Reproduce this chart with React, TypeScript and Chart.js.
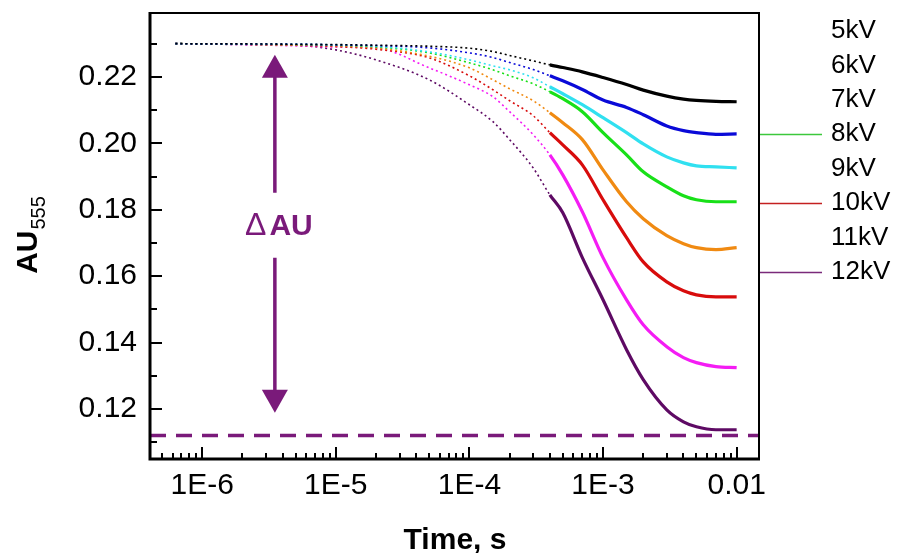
import React, { useEffect, useRef } from 'react';
import { Chart, registerables } from 'chart.js';

Chart.register(...registerables);

// ---------- data ----------
const times = [6.3e-7, 1e-6, 2e-6, 5e-6, 1e-5, 2e-5, 5e-5, 1e-4, 1.5e-4, 2e-4, 3e-4, 4e-4, 5e-4, 7e-4, 1e-3, 1.5e-3, 2e-3, 3e-3, 4e-3, 5e-3, 7e-3, 1e-2];

const seriesLabels = ['5kV', '6kV', '7kV', '8kV', '9kV', '10kV', '11kV', '12kV'];

const au5kV = [0.2300, 0.2299, 0.2299, 0.2298, 0.2297, 0.2295, 0.2292, 0.2286, 0.2276, 0.2264, 0.2248, 0.2236, 0.2228, 0.2215, 0.2198, 0.2177, 0.2160, 0.2142, 0.2133, 0.2129, 0.2126, 0.2125];
const au6kV = [0.2300, 0.2299, 0.2299, 0.2298, 0.2296, 0.2294, 0.2287, 0.2272, 0.2258, 0.2243, 0.2222, 0.2203, 0.2188, 0.2162, 0.2130, 0.2108, 0.2086, 0.2052, 0.2038, 0.2032, 0.2027, 0.2028];
const au7kV = [0.2300, 0.2299, 0.2298, 0.2298, 0.2296, 0.2292, 0.2275, 0.2251, 0.2233, 0.2221, 0.2197, 0.2170, 0.2149, 0.2116, 0.2077, 0.2032, 0.1998, 0.1959, 0.1941, 0.1932, 0.1929, 0.1926];
const au8kV = [0.2300, 0.2299, 0.2298, 0.2297, 0.2295, 0.2290, 0.2272, 0.2242, 0.2221, 0.2203, 0.2179, 0.2155, 0.2134, 0.2095, 0.2032, 0.1965, 0.1914, 0.1869, 0.1842, 0.1830, 0.1824, 0.1824];
const au9kV = [0.2300, 0.2299, 0.2298, 0.2296, 0.2293, 0.2287, 0.2262, 0.2227, 0.2191, 0.2164, 0.2128, 0.2092, 0.2062, 0.2011, 0.1920, 0.1824, 0.1773, 0.1722, 0.1698, 0.1686, 0.1680, 0.1686];
const au10kV = [0.2300, 0.2299, 0.2298, 0.2295, 0.2291, 0.2283, 0.2257, 0.2203, 0.2161, 0.2128, 0.2083, 0.2032, 0.1995, 0.1935, 0.1830, 0.1716, 0.1643, 0.1583, 0.1556, 0.1544, 0.1538, 0.1538];
const au11kV = [0.2300, 0.2299, 0.2297, 0.2293, 0.2290, 0.2287, 0.2227, 0.2176, 0.2140, 0.2095, 0.2026, 0.1965, 0.1905, 0.1794, 0.1656, 0.1529, 0.1454, 0.1388, 0.1355, 0.1340, 0.1328, 0.1325];
const au12kV = [0.2300, 0.2299, 0.2297, 0.2295, 0.2281, 0.2251, 0.2191, 0.2116, 0.2065, 0.2011, 0.1926, 0.1845, 0.1791, 0.1656, 0.1529, 0.1379, 0.1289, 0.1198, 0.1162, 0.1147, 0.1138, 0.1138];

const seriesValues = [au5kV, au6kV, au7kV, au8kV, au9kV, au10kV, au11kV, au12kV];
const seriesColors = ['#000000', '#0a0ad8', '#30e0f0', '#18e018', '#f08a12', '#d80c0c', '#f41cf4', '#5e0a64'];

// legend entries that carry a line sample in the original
const legendLineSeries = ['8kV', '10kV', '12kV'];
const legendLineColors: Record<string, string> = { '8kV': '#3cc83c', '10kV': '#c42020', '12kV': '#7a2a7a' };

// axes
const xMin = 4.07e-7;
const xMax = 0.0147;
const yMin = 0.105;
const yMax = 0.2392;
const xMajorTicks = [1e-6, 1e-5, 1e-4, 1e-3, 1e-2];
const xTickLabels = ['1E-6', '1E-5', '1E-4', '1E-3', '0.01'];
const xMinorMultipliers = [2, 3, 4, 5, 6, 7, 8, 9];
const yMajorTicks = [0.12, 0.14, 0.16, 0.18, 0.2, 0.22];
const yMinorTicks = [0.11, 0.13, 0.15, 0.17, 0.19, 0.21, 0.23];

// annotations
const baselineValue = 0.1121;
const arrowTime = 3.5e-6;
const arrowTop = 0.2266;
const arrowBottom = 0.1189;
const arrowLabelValue = 0.1758;
const arrowLabel = { delta: 'Δ', text: 'AU' };
const xTitle = 'Time, s';
const yTitleMain = 'AU';
const yTitleSub = '555';

// early part of every trace is sparse (dotted)
const sparseUntil = 4e-4;

const FONT = '"Liberation Sans", Arial, Helvetica, sans-serif';
const purple = '#7a1a7a';

const overlayPlugin = {
  id: 'overlay',
  afterDraw(chart: any) {
    const { ctx, chartArea, scales } = chart;
    const xs = scales.x;
    const ys = scales.y;
    const { left, right, top, bottom } = chartArea;
    ctx.save();

    // frame
    ctx.strokeStyle = '#000';
    ctx.lineWidth = 2;
    ctx.beginPath();
    ctx.moveTo(left, top);
    ctx.lineTo(right, top);
    ctx.lineTo(right, bottom);
    ctx.stroke();
    ctx.lineWidth = 3;
    ctx.beginPath();
    ctx.moveTo(left, top - 1);
    ctx.lineTo(left, bottom);
    ctx.lineTo(right + 1, bottom);
    ctx.stroke();

    // ticks (inward)
    ctx.lineWidth = 2;
    ctx.beginPath();
    yMajorTicks.forEach((v) => {
      const y = Math.round(ys.getPixelForValue(v));
      ctx.moveTo(left, y);
      ctx.lineTo(left + 12, y);
    });
    yMinorTicks.forEach((v) => {
      const y = Math.round(ys.getPixelForValue(v));
      ctx.moveTo(left, y);
      ctx.lineTo(left + 7, y);
    });
    const decades = [1e-7, ...xMajorTicks];
    decades.forEach((d) => {
      if (d >= xMin && d <= xMax) {
        const x = Math.round(xs.getPixelForValue(d));
        ctx.moveTo(x, bottom);
        ctx.lineTo(x, bottom - 12);
      }
      xMinorMultipliers.forEach((m) => {
        const v = d * m;
        if (v > xMin && v < xMax) {
          const x = Math.round(xs.getPixelForValue(v));
          ctx.moveTo(x, bottom);
          ctx.lineTo(x, bottom - 6);
        }
      });
    });
    ctx.stroke();

    // arrow with ΔAU
    const ax = xs.getPixelForValue(arrowTime);
    const yTop = ys.getPixelForValue(arrowTop);
    const yBot = ys.getPixelForValue(arrowBottom);
    const yLab = ys.getPixelForValue(arrowLabelValue);
    ctx.strokeStyle = purple;
    ctx.fillStyle = purple;
    ctx.lineWidth = 3.5;
    ctx.beginPath();
    ctx.moveTo(ax, yTop + 20);
    ctx.lineTo(ax, yLab - 31);
    ctx.moveTo(ax, yLab + 34);
    ctx.lineTo(ax, yBot - 20);
    ctx.stroke();
    ctx.beginPath();
    ctx.moveTo(ax, yTop);
    ctx.lineTo(ax - 13, yTop + 23);
    ctx.lineTo(ax + 13, yTop + 23);
    ctx.closePath();
    ctx.fill();
    ctx.beginPath();
    ctx.moveTo(ax, yBot);
    ctx.lineTo(ax - 13, yBot - 23);
    ctx.lineTo(ax + 13, yBot - 23);
    ctx.closePath();
    ctx.fill();

    ctx.textBaseline = 'alphabetic';
    ctx.textAlign = 'left';
    ctx.font = `32px ${FONT}`;
    const wd = ctx.measureText(arrowLabel.delta).width;
    ctx.font = `bold 30px ${FONT}`;
    const wa = ctx.measureText(arrowLabel.text).width;
    const tx = ax + 4 - (wd + wa + 3) / 2;
    ctx.font = `32px ${FONT}`;
    ctx.fillText(arrowLabel.delta, tx, yLab + 11);
    ctx.font = `bold 30px ${FONT}`;
    ctx.fillText(arrowLabel.text, tx + wd + 3, yLab + 11);

    // legend
    ctx.font = `26px ${FONT}`;
    ctx.fillStyle = '#000';
    ctx.textBaseline = 'middle';
    seriesLabels.forEach((lab, i) => {
      const y = 31 + i * 34.4;
      ctx.fillText(lab, 831, y);
      if (legendLineSeries.includes(lab)) {
        ctx.strokeStyle = legendLineColors[lab];
        ctx.lineWidth = 1.5;
        ctx.beginPath();
        ctx.moveTo(right + 1, Math.round(y) + 0.5);
        ctx.lineTo(822, Math.round(y) + 0.5);
        ctx.stroke();
      }
    });

    // axis titles
    ctx.fillStyle = '#000';
    ctx.textBaseline = 'alphabetic';
    ctx.textAlign = 'center';
    ctx.font = `bold 30px ${FONT}`;
    ctx.fillText(xTitle, 455, 549);

    ctx.save();
    ctx.font = `bold 30px ${FONT}`;
    const wMain = ctx.measureText(yTitleMain).width;
    ctx.font = `20px ${FONT}`;
    const wSub = ctx.measureText(yTitleSub).width;
    const total = wMain + 1 + wSub;
    ctx.translate(37, (top + bottom) / 2 - 1);
    ctx.rotate(-Math.PI / 2);
    ctx.textAlign = 'left';
    ctx.font = `bold 30px ${FONT}`;
    ctx.fillText(yTitleMain, -total / 2, 0);
    ctx.font = `20px ${FONT}`;
    ctx.fillText(yTitleSub, -total / 2 + wMain + 1, 8);
    ctx.restore();

    ctx.restore();
  },
};

export default function App() {
  const ref = useRef<HTMLCanvasElement | null>(null);

  useEffect(() => {
    document.body.style.margin = '0';
    document.body.style.overflow = 'hidden';
    const canvas = ref.current;
    if (!canvas) return;

    const datasets: any[] = seriesValues.map((vals, i) => ({
      label: seriesLabels[i],
      data: times.map((t, j) => ({ x: t, y: vals[j] })),
      borderColor: seriesColors[i],
      backgroundColor: seriesColors[i],
      borderWidth: 3.2,
      pointRadius: 0,
      cubicInterpolationMode: 'monotone',
      fill: false,
      segment: {
        borderDash: (c: any) => (c.p1.parsed.x <= sparseUntil ? [2, 3] : undefined),
        borderWidth: (c: any) => (c.p1.parsed.x <= sparseUntil ? 1.6 : 3.2),
      },
    }));

    datasets.push({
      label: 'baseline',
      data: [
        { x: xMin, y: baselineValue },
        { x: xMax, y: baselineValue },
      ],
      borderColor: purple,
      borderWidth: 3.5,
      borderDash: [16, 10],
      pointRadius: 0,
      fill: false,
    });

    const chart = new Chart(canvas, {
      type: 'line',
      data: { datasets },
      options: {
        animation: false,
        responsive: false,
        devicePixelRatio: 1,
        layout: { padding: { top: 13, right: 141, left: 0, bottom: 0 } },
        plugins: {
          legend: { display: false },
          tooltip: { enabled: false },
        },
        scales: {
          x: {
            type: 'logarithmic',
            min: xMin,
            max: xMax,
            grid: { display: false, drawTicks: false },
            border: { display: false },
            afterBuildTicks: (scale: any) => {
              scale.ticks = xMajorTicks.map((v) => ({ value: v, major: true }));
            },
            afterFit: (scale: any) => {
              scale.height = 94;
              scale.paddingLeft = 0;
              scale.paddingRight = 0;
              scale.paddingTop = 0;
              scale.paddingBottom = 0;
            },
            ticks: {
              autoSkip: false,
              maxRotation: 0,
              minRotation: 0,
              padding: 9,
              color: '#000',
              font: { family: FONT, size: 30 },
              callback: (v: any) => {
                const idx = xMajorTicks.findIndex((t) => Math.abs(t - Number(v)) / t < 1e-6);
                return idx >= 0 ? xTickLabels[idx] : '';
              },
            },
          },
          y: {
            type: 'linear',
            min: yMin,
            max: yMax,
            grid: { display: false, drawTicks: false },
            border: { display: false },
            afterBuildTicks: (scale: any) => {
              scale.ticks = yMajorTicks.map((v) => ({ value: v }));
            },
            afterFit: (scale: any) => {
              scale.width = 150;
              scale.paddingLeft = 0;
              scale.paddingRight = 0;
              scale.paddingTop = 0;
              scale.paddingBottom = 0;
            },
            ticks: {
              autoSkip: false,
              padding: 13,
              color: '#000',
              font: { family: FONT, size: 30 },
              callback: (v: any) => Number(v).toFixed(2),
            },
          },
        },
      },
      plugins: [overlayPlugin],
    } as any);

    return () => chart.destroy();
  }, []);

  return (
    <div style={{ width: 900, height: 553, background: '#fff' }}>
      <canvas ref={ref} width={900} height={553} style={{ display: 'block' }} />
    </div>
  );
}
